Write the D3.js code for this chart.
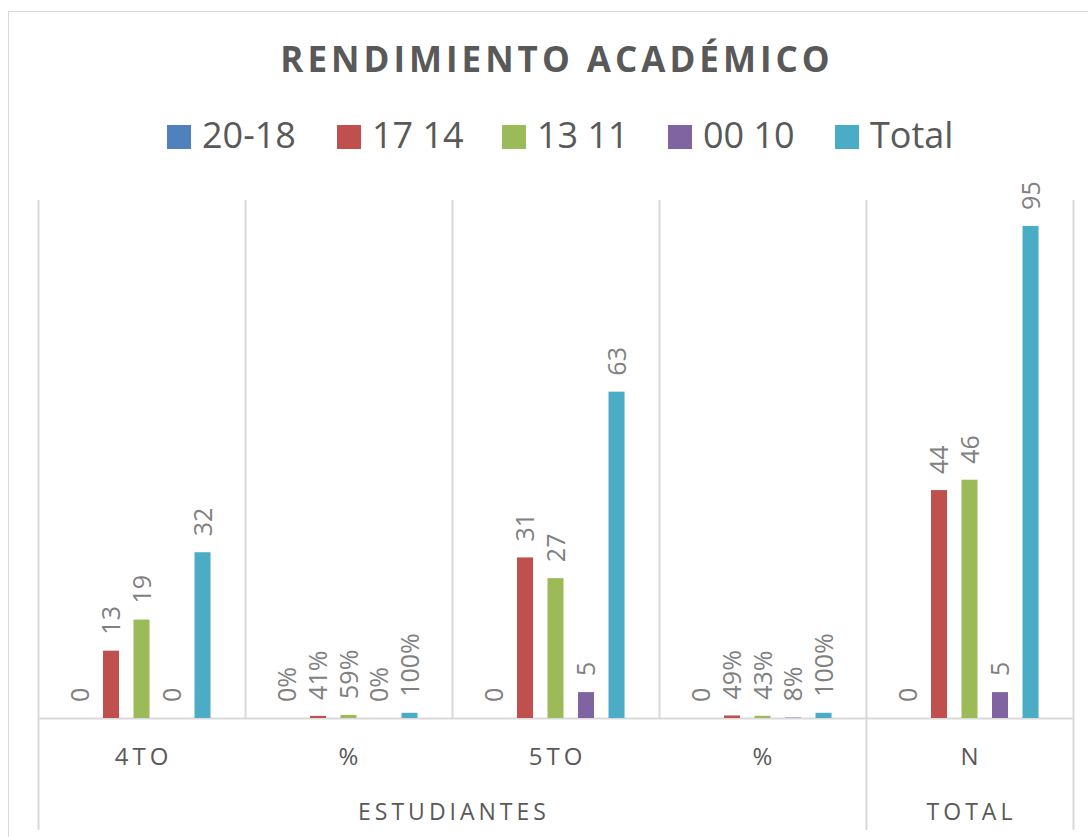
<!DOCTYPE html>
<html>
<head>
<meta charset="utf-8">
<script src="https://cdn.jsdelivr.net/npm/d3@7"></script>
<style>
  body { margin: 0; background: #fff; }
  svg text { font-family: "Open Sans", sans-serif; }
</style>
</head>
<body>
<svg id="chart" width="1088" height="837"></svg>
<script>
// chart data
const categories = ['4TO', '%', '5TO', '%', 'N'];
const groups = [
  { name: 'ESTUDIANTES', from: 0, to: 3 },
  { name: 'TOTAL', from: 4, to: 4 }
];
const seriesNames = ['20-18', '17 14', '13 11', '00 10', 'Total'];
const s2018  = [0, 0,    0,  0,    0];
const s1714  = [13, 0.41, 31, 0.49, 44];
const s1311  = [19, 0.59, 27, 0.43, 46];
const s0010  = [0, 0,    5,  0.08, 5];
const sTotal = [32, 1,    63, 1,    95];
const percentCols = [false, true, false, true, false];
// the one label in the second % column that Excel shows without a % sign
const plainLabels = [{ series: 0, col: 3 }];

const colours = ['#4F81BD', '#C0504D', '#9BBB59', '#8064A2', '#4BACC6'];
const allSeries = [s2018, s1714, s1311, s0010, sTotal];

const svg = d3.select('#chart');
const margin = { left: 38, right: 15, top: 200, bottom: 119 };
const width  = +svg.attr('width');
const height = +svg.attr('height');
const baseY = height - margin.bottom;   // 718

// outer chart frame
svg.append('rect')
  .attr('x', 8.5).attr('y', 11.5)
  .attr('width', 1200).attr('height', 1000)
  .attr('fill', 'none')
  .attr('stroke', '#d9d9d9');

// title
svg.append('text')
  .attr('x', 555 + 2).attr('y', 72)
  .attr('text-anchor', 'middle')
  .attr('fill', '#595959')
  .attr('font-size', 35)
  .attr('font-weight', 'bold')
  .style('letter-spacing', '4px')
  .text('RENDIMIENTO ACADÉMICO');

// legend
const legendX = [167, 337, 502, 668, 835];
const legend = svg.selectAll('.legend').data(seriesNames)
  .join('g')
    .attr('class', 'legend')
    .attr('transform', (d, i) => `translate(${legendX[i]}, 125)`);
legend.append('rect')
  .attr('width', 24).attr('height', 24)
  .attr('fill', (d, i) => colours[i]);
legend.append('text')
  .attr('x', 35).attr('y', 23)
  .attr('fill', '#595959')
  .attr('font-size', 36)
  .text(d => d);

// scales
const x0 = d3.scaleBand()
  .domain(d3.range(categories.length))
  .range([margin.left, width - margin.right]);
const x1 = d3.scaleBand()
  .domain(d3.range(seriesNames.length))
  .range([0, x0.bandwidth()])
  .paddingInner(0.475)
  .paddingOuter(1.13);
const y = d3.scaleLinear()
  .domain([0, 100])
  .range([baseY, margin.top]);

// vertical grid lines between categories
const boundaries = d3.range(categories.length + 1).map(i => margin.left + i * x0.step());
svg.selectAll('.vgrid').data(boundaries)
  .join('line')
    .attr('class', 'vgrid')
    .attr('x1', d => Math.round(d) + 0.5).attr('x2', d => Math.round(d) + 0.5)
    .attr('y1', margin.top)
    .attr('y2', (d, i) => (i === 0 || i === 4 || i === 5) ? 830 : baseY)
    .attr('stroke', '#d9d9d9')
    .attr('stroke-width', 2);

// baseline
svg.append('line')
  .attr('x1', margin.left).attr('x2', width - margin.right)
  .attr('y1', baseY + 0.5).attr('y2', baseY + 0.5)
  .attr('stroke', '#d9d9d9')
  .attr('stroke-width', 2);

// bars
const cells = [];
allSeries.forEach((vals, s) => vals.forEach((v, c) => cells.push({ s, c, v })));

svg.selectAll('.bar').data(cells.filter(d => d.v > 0))
  .join('rect')
    .attr('class', 'bar')
    .attr('x', d => x0(d.c) + x1(d.s))
    .attr('y', d => y(d.v))
    .attr('width', x1.bandwidth())
    .attr('height', d => baseY - y(d.v))
    .attr('fill', d => colours[d.s]);

// value labels
const pct = d3.format('.0%');
const labelText = d => {
  const plain = plainLabels.some(p => p.series === d.s && p.col === d.c);
  return (percentCols[d.c] && !plain) ? pct(d.v) : d3.format('d')(d.v);
};
svg.selectAll('.vlabel').data(cells)
  .join('text')
    .attr('class', 'vlabel')
    .attr('transform', d => `translate(${x0(d.c) + x1(d.s) + x1.bandwidth() / 2}, ${y(d.v) - 16}) rotate(-90)`)
    .attr('dy', '0.36em')
    .attr('fill', '#808080')
    .attr('font-size', 25)
    .text(labelText);

// category labels
svg.selectAll('.cat').data(categories)
  .join('text')
    .attr('class', 'cat')
    .attr('x', (d, i) => x0(i) + x0.bandwidth() / 2 + 2)
    .attr('y', 765)
    .attr('text-anchor', 'middle')
    .attr('fill', '#595959')
    .attr('font-size', 24)
    .style('letter-spacing', '4px')
    .text(d => d);

// group labels
svg.selectAll('.grp').data(groups)
  .join('text')
    .attr('class', 'grp')
    .attr('x', d => (x0(d.from) + x0(d.to) + x0.bandwidth()) / 2 + 2)
    .attr('y', 820)
    .attr('text-anchor', 'middle')
    .attr('fill', '#595959')
    .attr('font-size', 23)
    .style('letter-spacing', '4px')
    .text(d => d.name);
</script>
</body>
</html>
